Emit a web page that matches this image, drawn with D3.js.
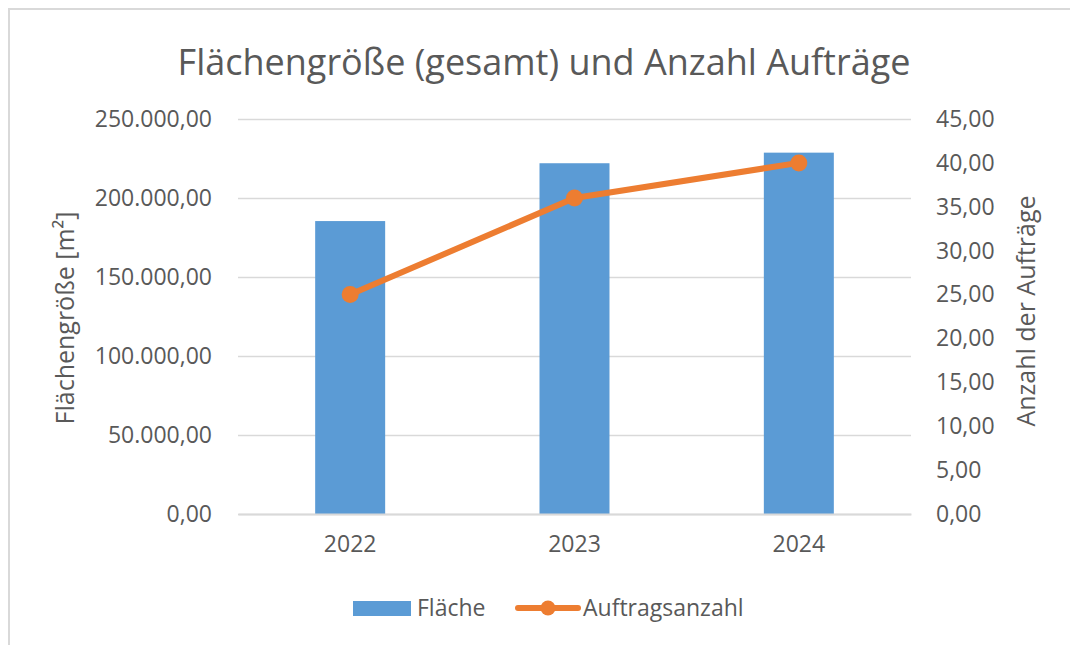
<!DOCTYPE html>
<html>
<head>
<meta charset="utf-8">
<script src="https://cdn.jsdelivr.net/npm/d3@7"></script>
<style>
  html, body { margin: 0; padding: 0; background: #fff; }
  svg text { font-family: "Open Sans", "Noto Sans", sans-serif; fill: #595959; }
</style>
</head>
<body>
<svg id="chart" width="1070" height="645"></svg>
<script>
var years = ["2022", "2023", "2024"];
var flaeche = [185400, 222000, 228700];
var auftraege = [25, 36, 40];
var leftTicks = [0, 50000, 100000, 150000, 200000, 250000];
var rightTicks = [0, 5, 10, 15, 20, 25, 30, 35, 40, 45];

var BAR = "#5B9BD5";
var LINE = "#ED7D31";
var GRID = "#D9D9D9";

var de = d3.formatLocale({decimal: ",", thousands: ".", grouping: [3], currency: ["", " €"]});
var fmt = de.format(",.2f");

var svg = d3.select("#chart");

// outer frame (cut off at right/bottom like the screenshot)
svg.append("rect")
    .attr("x", 9).attr("y", 9)
    .attr("width", 1100).attr("height", 700)
    .attr("fill", "none")
    .attr("stroke", GRID)
    .attr("stroke-width", 2);

var margin = {top: 119, left: 238};
var width = 911 - 238;
var height = 514 - 119;

var g = svg.append("g")
    .attr("transform", "translate(" + margin.left + "," + margin.top + ")");

var x = d3.scaleBand().domain(years).range([0, width])
    .paddingInner(0.688).paddingOuter(0.344);
var xc = d3.scalePoint().domain(years).range([0, width]).padding(0.5);
var yL = d3.scaleLinear().domain([0, 250000]).range([height, 0]);
var yR = d3.scaleLinear().domain([0, 45]).range([height, 0]);

// gridlines
var grid = g.append("g")
    .call(d3.axisLeft(yL).tickValues(leftTicks).tickSize(-width).tickFormat(""));
grid.select(".domain").remove();
grid.selectAll("line").attr("stroke", GRID).attr("stroke-width", 1.5);

// left axis labels
var ga = g.append("g")
    .call(d3.axisLeft(yL).tickValues(leftTicks).tickSize(0).tickPadding(26).tickFormat(fmt));
ga.select(".domain").remove();
ga.selectAll("text").attr("font-size", 23).attr("fill", "#595959")
    .attr("font-family", "Open Sans");

// right axis labels
var gr = g.append("g")
    .attr("transform", "translate(" + width + ",0)")
    .call(d3.axisRight(yR).tickValues(rightTicks).tickSize(0).tickPadding(25).tickFormat(fmt));
gr.select(".domain").remove();
gr.selectAll("text").attr("font-size", 23).attr("fill", "#595959")
    .attr("font-family", "Open Sans");

// bars
g.append("g").selectAll("rect")
    .data(flaeche)
    .enter().append("rect")
        .attr("x", function(d, i) { return x(years[i]); })
        .attr("y", function(d) { return yL(d); })
        .attr("width", x.bandwidth())
        .attr("height", function(d) { return height - yL(d); })
        .attr("fill", BAR);

// bottom axis
var gx = g.append("g")
    .attr("transform", "translate(0," + height + ")")
    .call(d3.axisBottom(x).tickSize(0).tickPadding(22));
gx.select(".domain").attr("stroke", GRID).attr("stroke-width", 2);
gx.selectAll("text").attr("font-size", 23).attr("fill", "#595959")
    .attr("font-family", "Open Sans");

// line series
var line = d3.line()
    .x(function(d, i) { return xc(years[i]); })
    .y(function(d) { return yR(d); });
g.append("path")
    .datum(auftraege)
    .attr("fill", "none")
    .attr("stroke", LINE)
    .attr("stroke-width", 6)
    .attr("stroke-linecap", "round")
    .attr("stroke-linejoin", "round")
    .attr("d", line);
g.append("g").selectAll("circle")
    .data(auftraege)
    .enter().append("circle")
        .attr("cx", function(d, i) { return xc(years[i]); })
        .attr("cy", function(d) { return yR(d); })
        .attr("r", 8.5)
        .attr("fill", LINE);

// title
svg.append("text")
    .attr("x", 544).attr("y", 75)
    .attr("text-anchor", "middle")
    .attr("font-size", 36)
    .text("Flächengröße (gesamt) und Anzahl Aufträge");

// axis titles
svg.append("text")
    .attr("transform", "translate(74,318) rotate(-90)")
    .attr("text-anchor", "middle")
    .attr("font-size", 25)
    .text("Flächengröße [m²]");
svg.append("text")
    .attr("transform", "translate(1035,311) rotate(-90)")
    .attr("text-anchor", "middle")
    .attr("font-size", 25)
    .text("Anzahl der Aufträge");

// legend
var lg = svg.append("g");
lg.append("rect")
    .attr("x", 353).attr("y", 601)
    .attr("width", 58).attr("height", 15)
    .attr("fill", BAR);
lg.append("text")
    .attr("x", 417).attr("y", 608).attr("dy", "0.35em")
    .attr("font-size", 23)
    .text("Fläche");
lg.append("line")
    .attr("x1", 518).attr("x2", 578)
    .attr("y1", 608).attr("y2", 608)
    .attr("stroke", LINE).attr("stroke-width", 6)
    .attr("stroke-linecap", "round");
lg.append("circle")
    .attr("cx", 548).attr("cy", 608).attr("r", 7.5)
    .attr("fill", LINE);
lg.append("text")
    .attr("x", 583).attr("y", 608).attr("dy", "0.35em")
    .attr("font-size", 23)
    .text("Auftragsanzahl");
</script>
</body>
</html>
